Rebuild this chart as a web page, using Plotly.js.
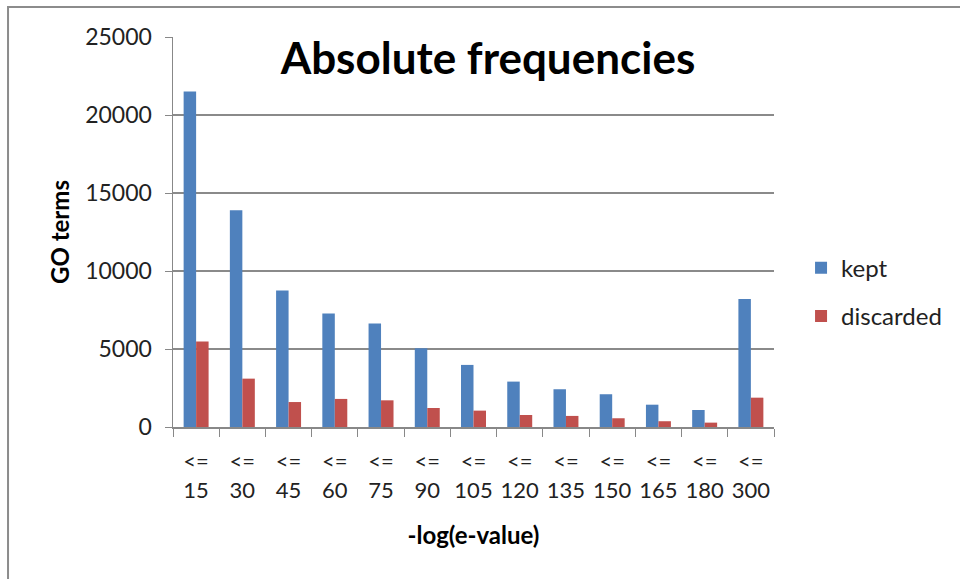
<!DOCTYPE html>
<html>
<head>
<meta charset="utf-8">
<script src="https://cdn.plot.ly/plotly-3.0.1.min.js"></script>
<style>
html,body{margin:0;padding:0;background:#fff;}
#chart{width:960px;height:579px;}
</style>
</head>
<body>
<div id="chart"></div>
<script>
const categories = ["<=<br>15","<=<br>30","<=<br>45","<=<br>60","<=<br>75","<=<br>90","<=<br>105","<=<br>120","<=<br>135","<=<br>150","<=<br>165","<=<br>180","<=<br>300"];
const kept = [21500, 13900, 8750, 7270, 6630, 5050, 3980, 2910, 2420, 2100, 1430, 1090, 8200];
const discarded = [5480, 3100, 1600, 1800, 1710, 1220, 1050, 770, 710, 560, 370, 280, 1880];
const yTicks = [0, 5000, 10000, 15000, 20000, 25000];
const yTickLabels = ["0", "5000", "10000", "15000", "20000", "25000"];

const FONT = "Lato, 'Open Sans', sans-serif";
const traces = [
  {type:"bar", name:"kept", x:categories, y:kept, marker:{color:"#4F81BD"}, legendgroup:"a", hoverinfo:"y"},
  {type:"bar", name:"discarded", x:categories, y:discarded, marker:{color:"#C0504D"}, legendgroup:"b", hoverinfo:"y"}
];

const layout = {
  width:960, height:579,
  margin:{l:173, r:186, t:37, b:152, pad:0},
  paper_bgcolor:"#fff", plot_bgcolor:"#fff",
  font:{family:FONT, color:"#222"},
  barmode:"group", bargap:0.46, bargroupgap:0,
  title:{text:"<b>Absolute frequencies</b>", font:{family:FONT, size:44, color:"#000"},
         xref:"paper", x:0.524, xanchor:"center", yref:"container", y:1-59/579, yanchor:"middle"},
  xaxis:{type:"category", tickson:"boundaries", ticks:"outside", ticklen:8, tickcolor:"#888",
         showline:true, linecolor:"#888", linewidth:1.5, showgrid:false, ticklabelstandoff:14,
         tickangle:0, tickfont:{family:FONT, size:22, color:"#222"},
         title:{text:"<b>-log(e-value)</b>", font:{family:FONT, size:24, color:"#000"}, standoff:25}},
  yaxis:{range:[0,25000], tickvals:yTicks, ticktext:yTickLabels, ticks:"outside", ticklen:7, tickcolor:"#888",
         showline:true, linecolor:"#888", linewidth:1.5, gridcolor:"#8a8a8a", gridwidth:1.3,
         zeroline:false, ticklabelstandoff:8, tickfont:{family:FONT, size:23, color:"#222"},
         title:{text:"<b>GO terms</b>", font:{family:FONT, size:24, color:"#000"}, standoff:9}},
  legend:{x:1.045, xanchor:"left", y:0.465, yanchor:"top", traceorder:"grouped", tracegroupgap:14,
          font:{family:FONT, size:24, color:"#222"}, bgcolor:"rgba(0,0,0,0)"},
  shapes:[{type:"rect", xref:"paper", yref:"paper", x0:-0.2745, x1:2, y0:-2, y1:1.077,
           line:{color:"#8c8c8c", width:2}, fillcolor:"rgba(0,0,0,0)", layer:"below"}],
  showlegend:true
};

Plotly.newPlot("chart", traces, layout, {displayModeBar:false, staticPlot:true});
</script>
</body>
</html>
